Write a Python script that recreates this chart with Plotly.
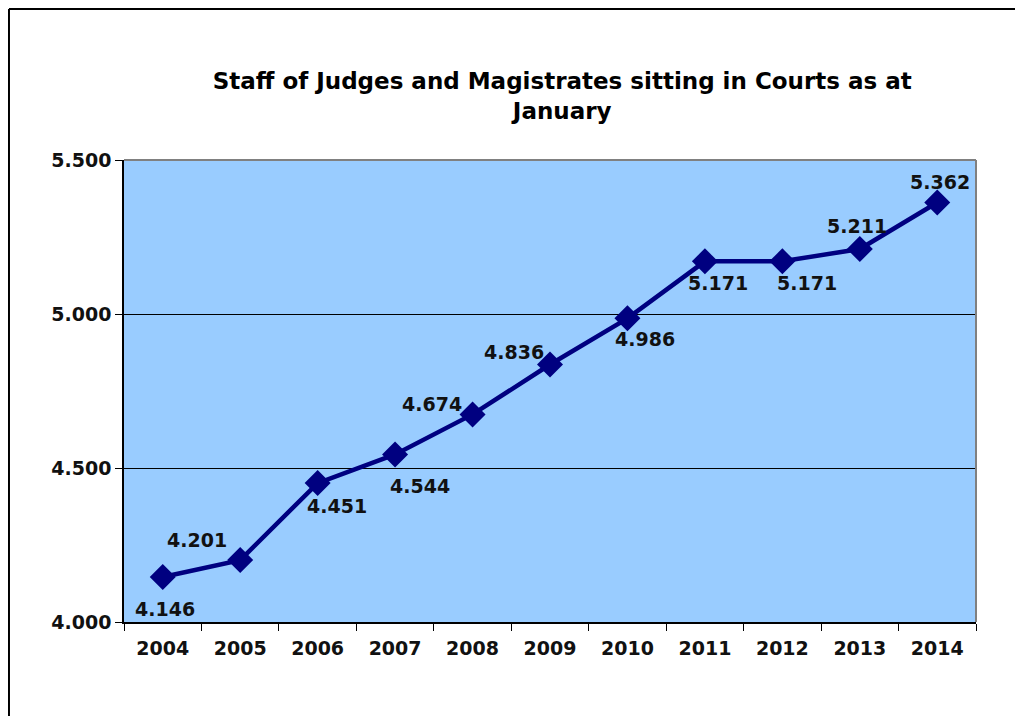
import plotly.graph_objects as go

years = ["2004", "2005", "2006", "2007", "2008", "2009", "2010", "2011", "2012", "2013", "2014"]
staff = [4146, 4201, 4451, 4544, 4674, 4836, 4986, 5171, 5171, 5211, 5362]
value_labels = ["4.146", "4.201", "4.451", "4.544", "4.674", "4.836", "4.986", "5.171", "5.171", "5.211", "5.362"]
y_tick_values = [4000, 4500, 5000, 5500]
y_tick_labels = ["4.000", "4.500", "5.000", "5.500"]
title_text = "Staff of Judges and Magistrates sitting in Courts as at<br>January"

# label offsets (pixels) mimicking Excel's placement
label_dx = [2, -43, 19, 25, -41, -36, 18, 13, 25, -3, 3]
label_dy = [-32, 20, -23, -32, 10, 13, -21, -22, -22, 23, 21]

NAVY = "#000080"
FONT = "DejaVu Sans"

fig = go.Figure()
fig.add_trace(go.Scatter(
    x=list(range(len(years))), y=staff, mode="lines+markers",
    line=dict(color=NAVY, width=4.5),
    marker=dict(symbol="diamond", size=20, color=NAVY),
    hoverinfo="skip", showlegend=False,
))

for i, (yv, t, dx, dy) in enumerate(zip(staff, value_labels, label_dx, label_dy)):
    fig.add_annotation(x=i, y=yv, xref="x", yref="y", text="<b>%s</b>" % t, showarrow=False,
                       xshift=dx, yshift=dy, xanchor="center", yanchor="middle",
                       font=dict(family=FONT, size=19, color="#111111"))

# plot-area border (top/right gray) and outer frame lines (left/top black)
fig.add_shape(type="line", xref="paper", yref="paper", x0=0, x1=1, y0=1, y1=1,
              line=dict(color="#808080", width=2))
fig.add_shape(type="line", xref="paper", yref="paper", x0=1, x1=1, y0=0, y1=1,
              line=dict(color="#808080", width=2))
fig.add_shape(type="line", xref="paper", yref="paper", x0=-0.135, x1=1.2, y0=1.3268, y1=1.3268,
              line=dict(color="black", width=2))
fig.add_shape(type="line", xref="paper", yref="paper", x0=-0.135, x1=-0.135, y0=-0.25, y1=1.3268,
              line=dict(color="black", width=2))

fig.update_layout(
    width=1015, height=708,
    margin=dict(l=116, r=47, t=152, b=94),
    paper_bgcolor="white",
    plot_bgcolor="#99CCFF",
    title=dict(text="<b>%s</b>" % title_text, x=0.546, xanchor="center",
               y=0.886, yanchor="middle",
               font=dict(family=FONT, size=23, color="black")),
)
fig.update_xaxes(
    range=[-0.5, 10.5],
    tickvals=list(range(len(years))), ticktext=["<b>%s</b>" % y for y in years],
    ticks="", showline=True, linecolor="black", linewidth=1.5,
    showgrid=False, zeroline=False,
    tickfont=dict(family=FONT, size=19, color="#111111"),
    ticklabelstandoff=8,
    minor=dict(tickvals=[i - 0.5 for i in range(len(years) + 1)], ticks="outside",
               ticklen=7, tickcolor="black", tickwidth=1, showgrid=False),
)
fig.update_yaxes(
    range=[4000, 5500], tickvals=y_tick_values, ticktext=["<b>%s</b>" % t for t in y_tick_labels],
    ticks="outside", ticklen=7, tickcolor="black", tickwidth=1,
    showline=True, linecolor="black", linewidth=1.5,
    showgrid=True, gridcolor="black", gridwidth=1, zeroline=False,
    tickfont=dict(family=FONT, size=19, color="#111111"),
)

fig.write_html("out.html")
